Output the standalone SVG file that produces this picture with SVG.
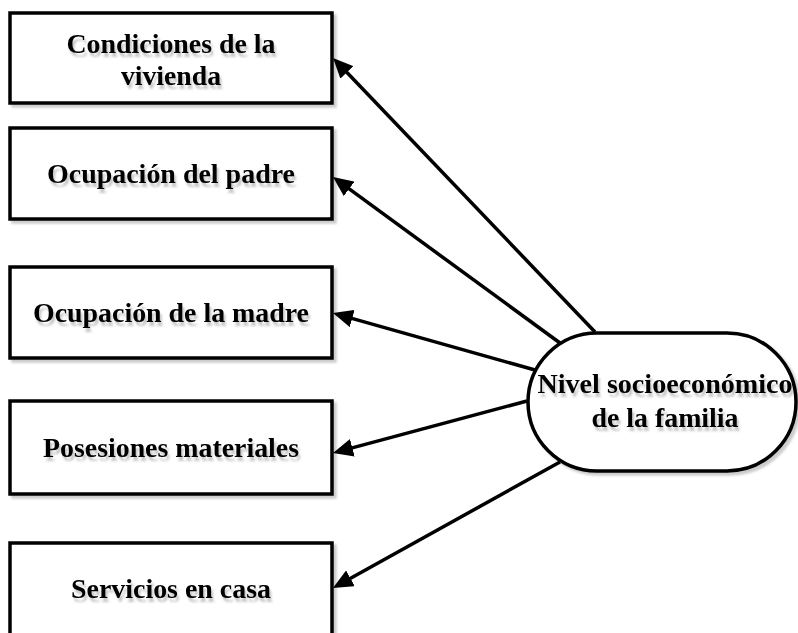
<svg xmlns="http://www.w3.org/2000/svg" width="798" height="633" viewBox="0 0 798 633">
<style>
.box{fill:#fff;stroke:#000;stroke-width:3.5}
.t{font-family:"Liberation Serif","Times New Roman",serif;font-weight:bold;font-size:27px;fill:#000;text-anchor:middle}
.c{stroke:#000;stroke-width:3.5;fill:none;marker-end:url(#ah)}
</style>
<defs>
<filter id="sh" x="-10%" y="-10%" width="130%" height="140%">
<feDropShadow dx="3" dy="3" stdDeviation="1" flood-color="#000" flood-opacity="0.2"/>
</filter>
<filter id="tsh" x="-10%" y="-30%" width="130%" height="180%">
<feDropShadow dx="2" dy="4" stdDeviation="1" flood-color="#000" flood-opacity="0.22"/>
</filter>
<marker id="ah" markerUnits="userSpaceOnUse" markerWidth="20" markerHeight="18" viewBox="0 0 20 18" refX="5" refY="9" orient="auto">
<path d="M0,0 L20,9 L0,18 z" fill="#000"/>
</marker>
</defs>
<rect width="798" height="633" fill="#fff"/>
<g id="connectors">
<line class="c" x1="595" y1="332" x2="343.4" y2="68.8"/>
<line class="c" x1="560" y1="343" x2="345.1" y2="185.9"/>
<line class="c" x1="535" y1="370" x2="347.4" y2="317.1"/>
<line class="c" x1="527" y1="401" x2="347.5" y2="449.1"/>
<line class="c" x1="560" y1="462" x2="346.1" y2="580.7"/>
</g>
<g id="n1">
<rect class="box" x="10" y="13" width="322" height="90" filter="url(#sh)"/>
<g filter="url(#tsh)">
<text class="t" x="171" y="53" textLength="209" lengthAdjust="spacingAndGlyphs">Condiciones de la</text>
<text class="t" x="171" y="85" textLength="100" lengthAdjust="spacingAndGlyphs">vivienda</text>
</g>
</g>
<g id="n2">
<rect class="box" x="10" y="128" width="322" height="91" filter="url(#sh)"/>
<text class="t" x="171" y="183" textLength="248" lengthAdjust="spacingAndGlyphs" filter="url(#tsh)">Ocupación del padre</text>
</g>
<g id="n3">
<rect class="box" x="10" y="267" width="322" height="91" filter="url(#sh)"/>
<text class="t" x="171" y="322" textLength="276" lengthAdjust="spacingAndGlyphs" filter="url(#tsh)">Ocupación de la madre</text>
</g>
<g id="n4">
<rect class="box" x="10" y="401" width="322" height="93" filter="url(#sh)"/>
<text class="t" x="171" y="457" textLength="256" lengthAdjust="spacingAndGlyphs" filter="url(#tsh)">Posesiones materiales</text>
</g>
<g id="n5">
<rect class="box" x="10" y="543" width="322" height="100" filter="url(#sh)"/>
<text class="t" x="171" y="598" textLength="200" lengthAdjust="spacingAndGlyphs" filter="url(#tsh)">Servicios en casa</text>
</g>
<g id="n6">
<rect class="box" x="528" y="333" width="268" height="138" rx="69" ry="69" filter="url(#sh)"/>
<g filter="url(#tsh)">
<text class="t" x="665" y="393" textLength="255" lengthAdjust="spacingAndGlyphs">Nivel socioeconómico</text>
<text class="t" x="665" y="427" textLength="147" lengthAdjust="spacingAndGlyphs">de la familia</text>
</g>
</g>
</svg>
